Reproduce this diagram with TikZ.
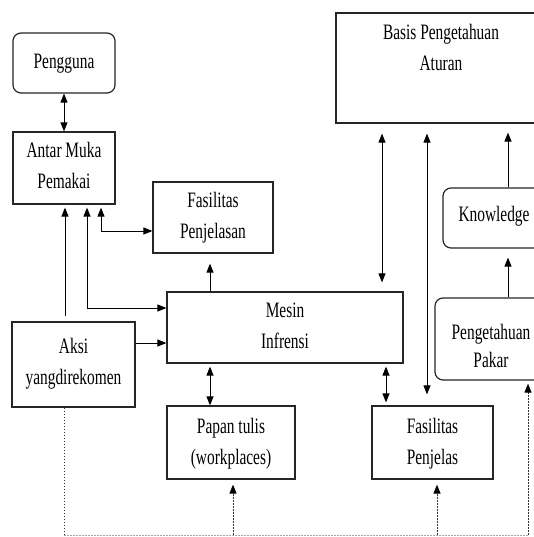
\documentclass[tikz,border=0pt]{standalone}
\usepackage{fontspec}
\setmainfont{Liberation Serif}[FakeStretch=0.70]
\usetikzlibrary{arrows.meta,calc}
\newcommand\ls{\rule[-5pt]{0pt}{20pt}}
\begin{document}
\begin{tikzpicture}[x=1pt,y=-1pt,
  box/.style={draw=black!85, line width=1.2pt, inner sep=0pt, fill=white},
  rbox/.style={box, rounded corners=8pt},
  txt/.style={font=\fontsize{22}{31}\selectfont, align=center, inner sep=0pt},
  tip/.style={-{Triangle[length=9pt,width=7pt,black]}},
  arr/.style={tip, line width=1pt},
  darr/.style={{Triangle[length=9pt,width=7pt]}-{Triangle[length=9pt,width=7pt]}, line width=1pt},
  dotv/.style={draw=black!80, line width=1pt, dash pattern=on 1.6pt off 1.4pt},
  doth/.style={draw=black!35, line width=0.8pt, dash pattern=on 1.6pt off 1.4pt}]
\useasboundingbox (0,0) rectangle (534,537);
\clip (0,0) rectangle (534,537);

% boxes
\node[rbox, minimum width=102pt, minimum height=60pt] (peng)  at (64,63) {};
\node[box,  minimum width=102pt, minimum height=72pt] (antar) at (64,168) {};
\node[box,  minimum width=120pt, minimum height=71pt] (fasil) at (213,217.5) {};
\node[box,  minimum width=236pt, minimum height=71pt] (mesin) at (285,327.5) {};
\node[box,  minimum width=123pt, minimum height=85pt] (aksi)  at (73.5,364.5) {};
\node[box,  minimum width=128pt, minimum height=73pt] (papan) at (231,442.5) {};
\node[box,  minimum width=121pt, minimum height=73pt] (fpj)   at (432.5,442.5) {};
\node[box,  minimum width=210pt, minimum height=110pt] (basis) at (441,68) {};
\node[rbox, minimum width=102pt, minimum height=60pt] (know)  at (494,218) {};
\node[rbox, minimum width=112pt, minimum height=82pt] (pakar) at (491,339) {};

% labels
\node[txt] (peng-t)  at (64,64)    {\ls Pengguna};
\node[txt] (antar-t) at (64,167.5) {\ls Antar Muka\\\ls Pemakai};
\node[txt] (fasil-t) at (213,217.5) {\ls Fasilitas\\\ls Penjelasan};
\node[txt] (mesin-t) at (285,327.5) {\ls Mesin\\\ls Infrensi};
\node[txt] (aksi-t)  at (73.5,364)  {\ls Aksi\\\ls yangdirekomen};
\node[txt] (papan-t) at (231,444)   {\ls Papan tulis\\\ls (workplaces)};
\node[txt] (fpj-t)   at (432.5,443.5) {\ls Fasilitas\\\ls Penjelas};
\node[txt] (basis-t) at (441,49.5)  {\ls Basis Pengetahuan\\\ls Aturan};
\node[txt] (know-t)  at (494,216)   {\ls Knowledge};
\node[txt, font=\fontsize{22}{28}\selectfont] (pakar-t) at (491,348) {\ls Pengetahuan\\\ls Pakar};

% solid connectors
\draw[darr] (peng.south) -- (antar.north);
\draw[arr, shorten <=5pt, shorten >=3pt] ([xshift=-8.5pt]aksi.north) -- ([xshift=-8.5pt]aksi.north |- antar.south);
\draw[darr, shorten <=3pt] ([xshift=23pt]antar.south) |- ([yshift=19.5pt]mesin.west);
\draw[darr, shorten <=3pt] ([xshift=37pt]antar.south) |- ([yshift=-13.5pt]fasil.west);
\draw[arr] ([yshift=21.5pt]aksi.east) -- ([yshift=21.5pt]aksi.east -| mesin.west);
\draw[arr, shorten >=10pt] ([xshift=-75pt]mesin.north) -- ([xshift=-75pt]mesin.north |- fasil.south);
\draw[darr, shorten <=10pt, shorten >=9pt] ([xshift=-59pt]basis.south) -- ([xshift=-59pt]basis.south |- mesin.north);
\draw[darr, shorten <=10pt, shorten >=11pt] ([xshift=-14pt]basis.south) -- ([xshift=-14pt]basis.south |- fpj.north);
\draw[arr, shorten >=9pt] ([xshift=14pt]know.north) -- ([xshift=14pt]know.north |- basis.south);
\draw[arr, shorten >=9pt] ([xshift=17pt]pakar.north) -- ([xshift=17pt]pakar.north |- know.south);
\draw[darr, shorten <=3pt] ([xshift=-75pt]mesin.south) -- ([xshift=-75pt]mesin.south |- papan.north);
\draw[darr, shorten <=3pt, shorten >=3pt] ([xshift=101pt]mesin.south) -- ([xshift=101pt]mesin.south |- fpj.north);

% dotted feedback lines
\coordinate (bl) at (64,535);
\coordinate (br) at (528,535);
\draw[dotv] ([xshift=-9.5pt]aksi.south) -- (bl);
\draw[doth] (bl) -- (br);
\draw[dotv, tip, shorten >=3pt] (br) -- ([xshift=37pt]pakar.south);
\draw[dotv, tip, shorten >=5pt] ([xshift=2pt]papan.south |- bl) -- ([xshift=2pt]papan.south);
\draw[dotv, tip, shorten >=5pt] ([xshift=4.5pt]fpj.south |- bl) -- ([xshift=4.5pt]fpj.south);
\end{tikzpicture}
\end{document}
